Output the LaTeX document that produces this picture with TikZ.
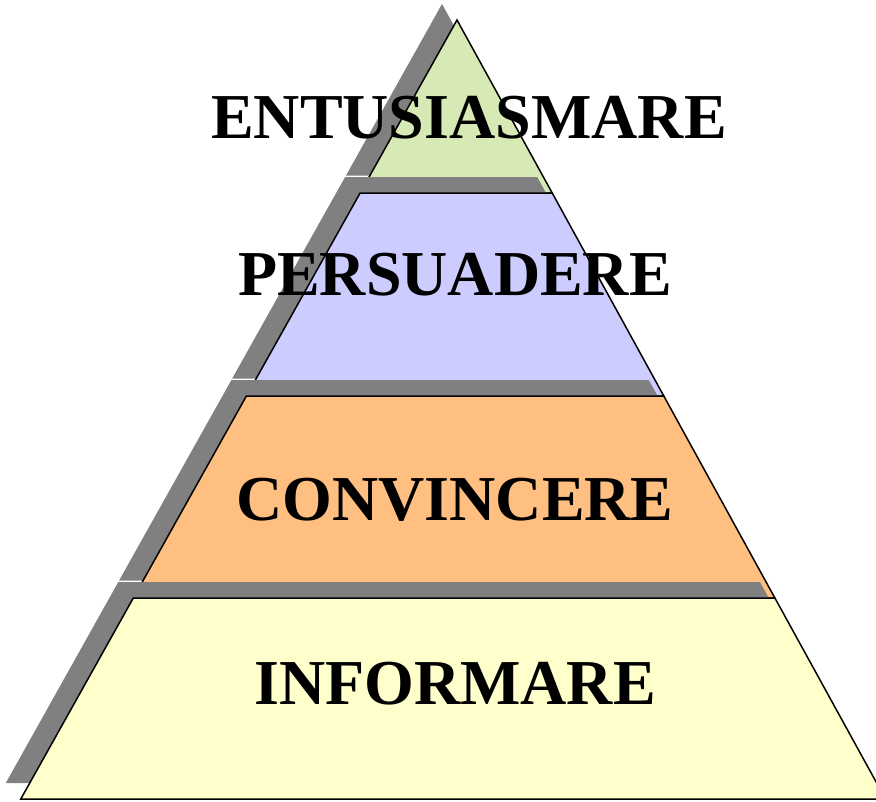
\documentclass[tikz,border=0pt]{standalone}
\usepackage{fontspec}
\setmainfont{Liberation Serif}
\definecolor{shade}{HTML}{808080}
\definecolor{lvlone}{HTML}{D7E9B4}
\definecolor{lvltwo}{HTML}{CCCCFF}
\definecolor{lvlthree}{HTML}{FFBF80}
\definecolor{lvlfour}{HTML}{FFFFCC}

\begin{document}
\begin{tikzpicture}[
        x=1pt, y=-1pt,
        shadow/.style={fill=shade, draw=none, shift={(-15,-16)}},
        layer/.style={draw=black, line width=1.5pt, line join=miter},
        word/.style={font=\fontsize{64}{70}\selectfont\bfseries, inner sep=0pt}
      ]
      \useasboundingbox (0,0) rectangle (876,801);
      \clip (0,0) rectangle (876,801);
      % top
      \fill[shadow] (457,20) -- (361,191.5) -- (551.3,191.5) -- cycle;
      \filldraw[layer, fill=lvlone] (457,20) -- (360.1,193) -- (552.2,193) -- cycle;
      % second
      \fill[shadow] (360.1,193) -- (247.2,394.5) -- (663,394.5) -- (552.2,193) -- cycle;
      \filldraw[layer, fill=lvltwo] (360.1,193) -- (246.4,396) -- (663.8,396) -- (552.2,193) -- cycle;
      % third
      \fill[shadow] (246.4,396) -- (134.1,596.5) -- (774.1,596.5) -- (663.8,396) -- cycle;
      \filldraw[layer, fill=lvlthree] (246.4,396) -- (133.3,598) -- (774.9,598) -- (663.8,396) -- cycle;
      % base
      \fill[shadow] (133.3,598) -- (20.8,799) -- (885.5,799) -- (774.9,598) -- cycle;
      \filldraw[layer, fill=lvlfour] (133.3,598) -- (20.8,799) -- (885.5,799) -- (774.9,598) -- cycle;

      \node[word] (enthuse) at (469,118) {ENTUSIASMARE};
      \node[word] (persuade) at (455,275) {PERSUADERE};
      \node[word] (convince) at (455,500) {CONVINCERE};
      \node[word] (inform) at (455,684) {INFORMARE};
      \end{tikzpicture}
\end{document}
